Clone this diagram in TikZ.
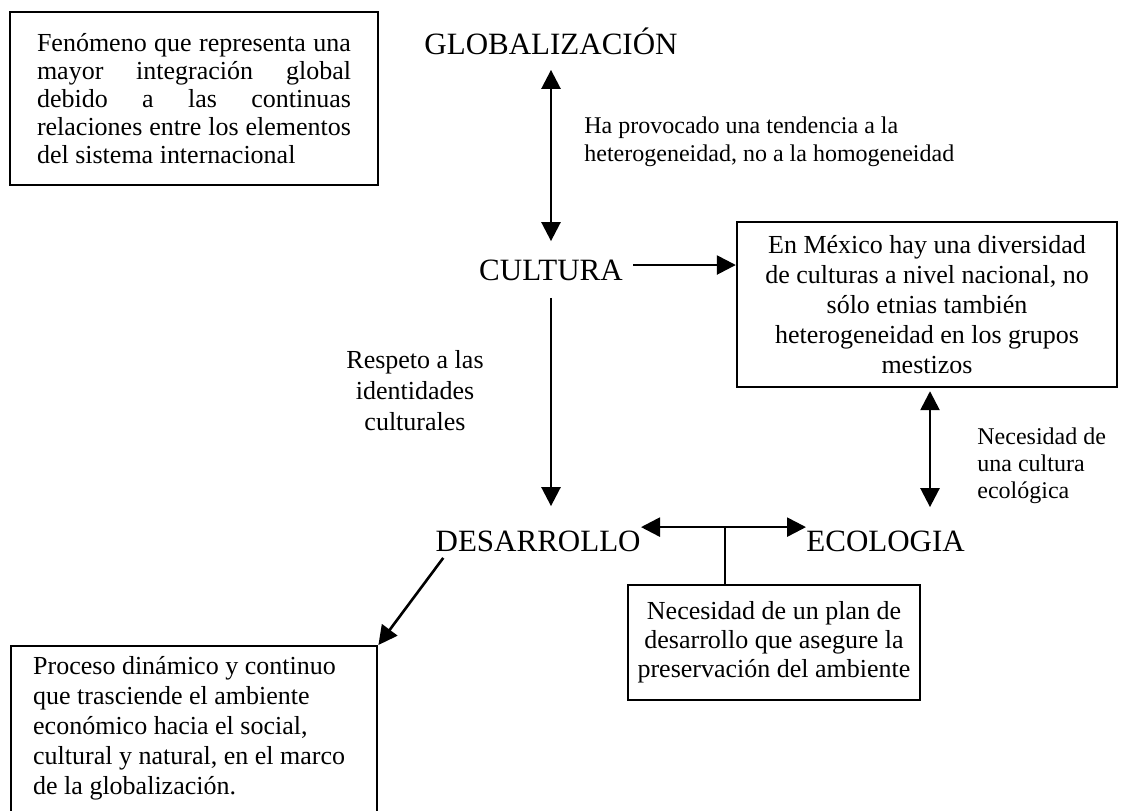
\documentclass[tikz,border=0pt]{standalone}
\usepackage{fontspec}
\setmainfont{Liberation Serif}
\usetikzlibrary{arrows.meta}

\tikzset{%
				box/.style={
					draw,
					line width=1.2pt,
					inner sep=0pt
				},
				bigword/.style={
					font=\fontsize{15.5}{17}\selectfont,
					inner sep=0pt,
					text height=10.5pt,
					text depth=0pt
				},
				note/.style={
					font=\fontsize{12}{13.5}\selectfont,
					inner sep=0pt,
					align=left
				},
				link/.style={
					line width=1.3pt
				},
			}

\begin{document}
\begin{tikzpicture}[x=0.5pt, y=-0.5pt, >={Triangle[width=9.5pt,length=9.5pt]}]
			\useasboundingbox (0,0) rectangle (1124,810);
			
			\node [box, minimum width=184pt, minimum height=86.5pt, text width=157pt, align=justify,
			font=\fontsize{13}{14}\selectfont] (glob-def) at (194,98.5)
			{Fenómeno que representa una\linebreak mayor integración global\linebreak debido a las continuas\linebreak relaciones entre los elementos\linebreak del sistema internacional};
			
			\node [box, minimum width=190pt, minimum height=82.5pt, align=center,
			font=\fontsize{13}{15}\selectfont] (cult-mx) at (927,304.5)
			{En México hay una diversidad\\ de culturas a nivel nacional, no\\ sólo etnias también\\ heterogeneidad en los grupos\\ mestizos};
			
			\node [box, minimum width=146pt, minimum height=57.5pt, align=center,
			font=\fontsize{13}{14.5}\selectfont] (plan-box) at (774,642.5)
			{Necesidad de un plan de\\ desarrollo que asegure la\\ preservación del ambiente};
			
			\node [box, anchor=north west, inner xsep=11pt, inner ysep=5pt] (proc-box) at (10,645)
			{\parbox[t][100pt][t]{161pt}{\fontsize{13}{15}\selectfont\raggedright
					Proceso dinámico y continuo\\ que trasciende el ambiente\\ económico hacia el social,\\ cultural y natural, en el marco\\ de la globalización.}};
			
			\node [bigword] (glob) at (551,44) {GLOBALIZACIÓN};
			\node [bigword] (cult) at (551,270) {CULTURA};
			\node [bigword, anchor=east] (desa) at (641,541) {DESARROLLO};
			\node [bigword, anchor=west] (ecol) at (806,541) {ECOLOGIA};
			
			\node [note, font=\fontsize{12}{14}\selectfont, anchor=west] (het-note) at (584,142) {Ha provocado una tendencia a la\\ heterogeneidad, no a la homogeneidad};
			\node [note, font=\fontsize{13}{15.5}\selectfont, align=center] (resp-note) at (415,391) {Respeto a las\\ identidades\\ culturales};
			\node [note, anchor=west] (eco-note) at (977,466) {Necesidad de\\ una cultura\\ ecológica};
			
			\draw [<->, link, shorten <=7.5pt, shorten >=9pt] (glob) -- (cult);
			\draw [->, link, shorten <=8.5pt, shorten >=12pt] (cult) -- (cult |- desa.north);
			\draw [->, link, shorten <=5pt] ([yshift=2.5pt]cult.east) -- ([yshift=2.5pt]cult.east -| cult-mx.west);
			\draw [<->, link, shorten <=1.5pt, shorten >=11.5pt] ([xshift=1.5pt]cult-mx.south) -- ([xshift=1.5pt]cult-mx.south |- ecol.north);
			\draw [<->, link] ([yshift=1.5pt]desa.north east) -- ([yshift=1.5pt]ecol.north west) coordinate[pos=0.51] (tick);
			\draw [link] (tick) -- (tick |- plan-box.north);
			\draw [->, link] ([xshift=4pt,yshift=-3pt]desa.south west) -- (proc-box.north east);
			
\end{tikzpicture}
\end{document}
